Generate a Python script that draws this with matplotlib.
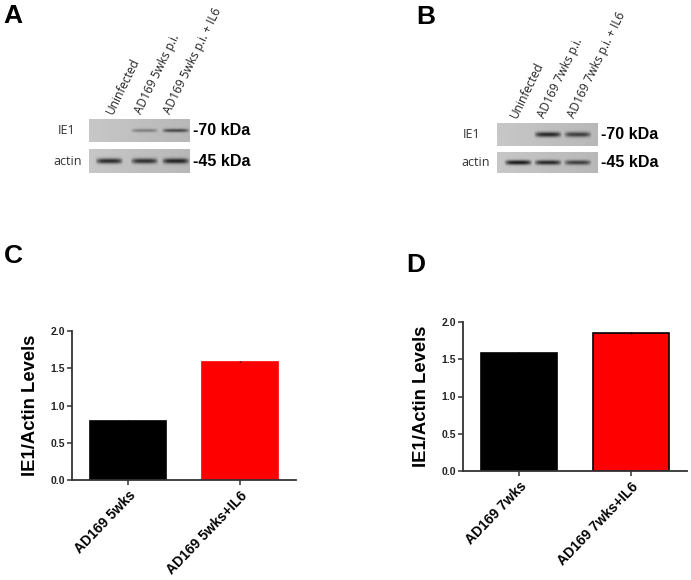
import numpy as np
import matplotlib
matplotlib.use("Agg")
import matplotlib.pyplot as plt

# ---------------- data ----------------
lanes_A = ["Uninfected", "AD169 5wks p.i.", "AD169 5wks p.i. + IL6"]
lanes_B = ["Uninfected", "AD169 7wks p.i.", "AD169 7wks p.i. + IL6"]
ie1_A = [0.0, 0.35, 0.65]      # band intensities (0..1)
actin_A = [0.85, 0.80, 0.85]
ie1_B = [0.0, 0.85, 0.70]
actin_B = [0.95, 0.85, 0.70]
markers = ["-70 kDa", "-45 kDa"]
rows = ["IE1", "actin"]

cats_C = ["AD169 5wks", "AD169 5wks+IL6"]
vals_C = [0.79, 1.59]
err_C = [0.01, 0.01]
cats_D = ["AD169 7wks", "AD169 7wks+IL6"]
vals_D = [1.59, 1.85]
err_D = [0.01, 0.01]
bar_colors = ["#000000", "#ff0000"]
yticks = [0.0, 0.5, 1.0, 1.5, 2.0]

W, H = 691, 580
fig = plt.figure(figsize=(W / 100, H / 100), dpi=100)

def add_ax(x0, y0, x1, y1):
    return fig.add_axes([x0 / W, 1 - y1 / H, (x1 - x0) / W, (y1 - y0) / H])

def ftxt(x, y, s, **kw):
    fig.text(x / W, 1 - y / H, s, **kw)

# ---------------- blot strips ----------------
def blot(x0, y0, x1, y1, intens, centers, thick):
    ax = add_ax(x0, y0, x1, y1)
    nx, ny = 300, 60
    xs = np.linspace(0, 1, nx)
    ys = np.linspace(-1, 1, ny)
    img = np.full((ny, nx), 0.25) + 0.03 * np.linspace(-1, 1, nx)[None, :]
    for v, c in zip(intens, centers):
        hx = np.clip(1 - ((xs - c) / 0.14) ** 4, 0, 1)
        vy = np.exp(-(ys / thick) ** 2)
        img += v * 0.7 * np.outer(vy, hx)
    ax.imshow(img, cmap="gray_r", vmin=0, vmax=1, aspect="auto",
              extent=[0, 1, -1, 1], interpolation="bilinear")
    ax.set_xticks([]); ax.set_yticks([])
    for s in ax.spines.values():
        s.set_visible(False)
    return ax

def western(boxx, y_ie1, y_act, intens_ie1, intens_act, centers, lanes,
            lab_x, lane_x, lab_y, mk_x, t_ie1):
    blot(boxx[0], y_ie1[0], boxx[1], y_ie1[1], intens_ie1, centers, t_ie1)
    blot(boxx[0], y_act[0], boxx[1], y_act[1], intens_act, centers, 0.22)
    yc = [(y_ie1[0] + y_ie1[1]) / 2, (y_act[0] + y_act[1]) / 2]
    for r, y, lx in zip(rows, yc, lab_x):
        ftxt(lx, y, r, ha="center", va="center", fontsize=9,
             family="Open Sans", color="#333333")
    for m, y in zip(markers, yc):
        ftxt(mk_x, y, m, ha="left", va="center", fontsize=11.5,
             fontweight="bold", family="Liberation Sans")
    for lane, lx in zip(lanes, lane_x):
        ftxt(lx, lab_y, lane, ha="left", va="bottom", rotation=64,
             rotation_mode="anchor", fontsize=8.6, family="Open Sans",
             color="#222222")

western((89, 190), (119, 142), (149, 173), ie1_A, actin_A, (0.2, 0.55, 0.86),
        lanes_A, (67, 68), (116, 144, 173), 116, 193, 0.15)
western((497, 597), (123, 146), (152, 173), ie1_B, actin_B, (0.21, 0.505, 0.80),
        lanes_B, (472, 476), (520, 547, 577), 120, 601, 0.22)

# ---------------- bar charts ----------------
def bars(x0, y0, x1, y1, cats, vals, errs, edge):
    ax = add_ax(x0, y0, x1, y1)
    pos = np.arange(len(cats))
    ax.bar(pos, vals, width=0.68, color=bar_colors,
           edgecolor=["black", edge], linewidth=1.2, zorder=2)
    ax.errorbar(pos, vals, yerr=errs, fmt="none", ecolor="black",
                elinewidth=1, capsize=0, zorder=3)
    ax.set_xlim(-0.5, 1.5)
    ax.set_ylim(0, 2.0)
    ax.set_yticks(yticks)
    ax.set_yticklabels([f"{t:.1f}" for t in yticks], fontsize=7.5,
                       fontweight="bold", family="Liberation Sans",
                       color="#222222")
    ax.set_xticks(pos)
    ax.set_xticklabels(cats, rotation=46, ha="right", rotation_mode="anchor",
                       fontsize=10, fontweight="bold", family="Liberation Sans")
    ax.spines["top"].set_visible(False)
    ax.spines["right"].set_visible(False)
    for s in ("left", "bottom"):
        ax.spines[s].set_linewidth(1.3)
        ax.spines[s].set_color("#333333")
    ax.tick_params(axis="both", length=3.5, width=1.1, color="#333333", pad=1.5)
    ax.tick_params(axis="x", pad=2.5)
    ax.set_ylabel("IE1/Actin Levels", fontsize=13.3, fontweight="bold",
                  family="Liberation Sans", labelpad=8)
    return ax

bars(72, 331, 296, 480, cats_C, vals_C, err_C, "#ff0000")
bars(463, 322, 687, 471, cats_D, vals_D, err_D, "black")

# ---------------- panel letters ----------------
for L, x, y in [("A", 13, 16), ("B", 426, 17), ("C", 13, 256), ("D", 416, 265)]:
    ftxt(x, y, L, ha="center", va="center", fontsize=19, fontweight="bold",
         family="Liberation Sans")

fig.savefig("out.png", dpi=100)
